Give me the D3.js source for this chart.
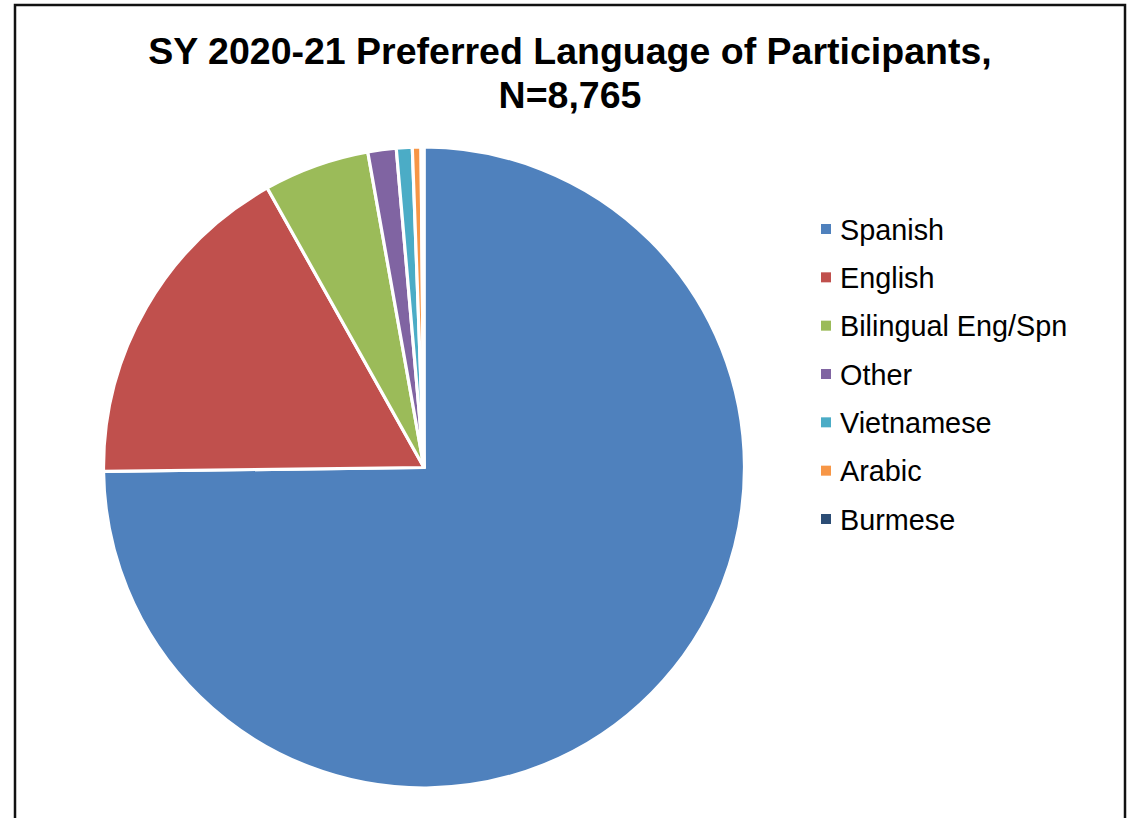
<!DOCTYPE html>
<html>
<head>
<meta charset="utf-8">
<script src="https://cdn.jsdelivr.net/npm/d3@7/dist/d3.min.js"></script>
<style>
  html, body { margin: 0; padding: 0; background: #fff; }
  svg { display: block; }
  text { font-family: Arial, "Liberation Sans", sans-serif; }
</style>
</head>
<body>
<script>
// Preferred language of participants, SY 2020-21 (N = 8,765)
const categories = ["Spanish", "English", "Bilingual Eng/Spn", "Other", "Vietnamese", "Arabic", "Burmese"];
const counts = [6557, 1495, 467, 125, 70, 38, 13];
const colors = ["#4F81BD", "#C0504D", "#9BBB59", "#8064A2", "#4BACC6", "#F79646", "#2C4D75"];
const titleLines = ["SY 2020-21 Preferred Language of Participants,", "N=8,765"];

const W = 1137, H = 818;
const svg = d3.select("body").append("svg").attr("width", W).attr("height", H);

// chart frame
svg.append("rect")
  .attr("x", 15).attr("y", 5)
  .attr("width", 1110).attr("height", 840)
  .attr("fill", "#fff").attr("stroke", "#111").attr("stroke-width", 2.5);

// title
const title = svg.append("text")
  .attr("text-anchor", "middle")
  .attr("font-weight", "bold")
  .attr("font-size", 37.5)
  .attr("fill", "#000");
title.selectAll("tspan").data(titleLines).join("tspan")
  .attr("x", 570)
  .attr("y", (d, i) => 64 + i * 44)
  .text(d => d);

// pie
const cx = 424, cy = 467.5, r = 320.5;
const data = categories.map((c, i) => ({ name: c, value: counts[i], color: colors[i] }));
const pie = d3.pie().value(d => d.value).sort(null);
const arc = d3.arc().innerRadius(0).outerRadius(r);

svg.append("g")
  .attr("transform", `translate(${cx},${cy})`)
  .selectAll("path")
  .data(pie(data))
  .join("path")
  .attr("d", arc)
  .attr("fill", d => d.data.color)
  .attr("stroke", "#fff")
  .attr("stroke-width", 3.2)
  .attr("stroke-linejoin", "round");

// legend
const legendY = d3.scalePoint().domain(categories).range([229, 519]);
const leg = svg.append("g").selectAll("g").data(data).join("g")
  .attr("transform", d => `translate(821,${legendY(d.name)})`);
leg.append("rect")
  .attr("x", 0).attr("y", -5)
  .attr("width", 10).attr("height", 10)
  .attr("fill", d => d.color);
leg.append("text")
  .attr("x", 19).attr("y", 10.5)
  .attr("font-size", 28.8)
  .attr("fill", "#000")
  .text(d => d.name);
</script>
</body>
</html>
